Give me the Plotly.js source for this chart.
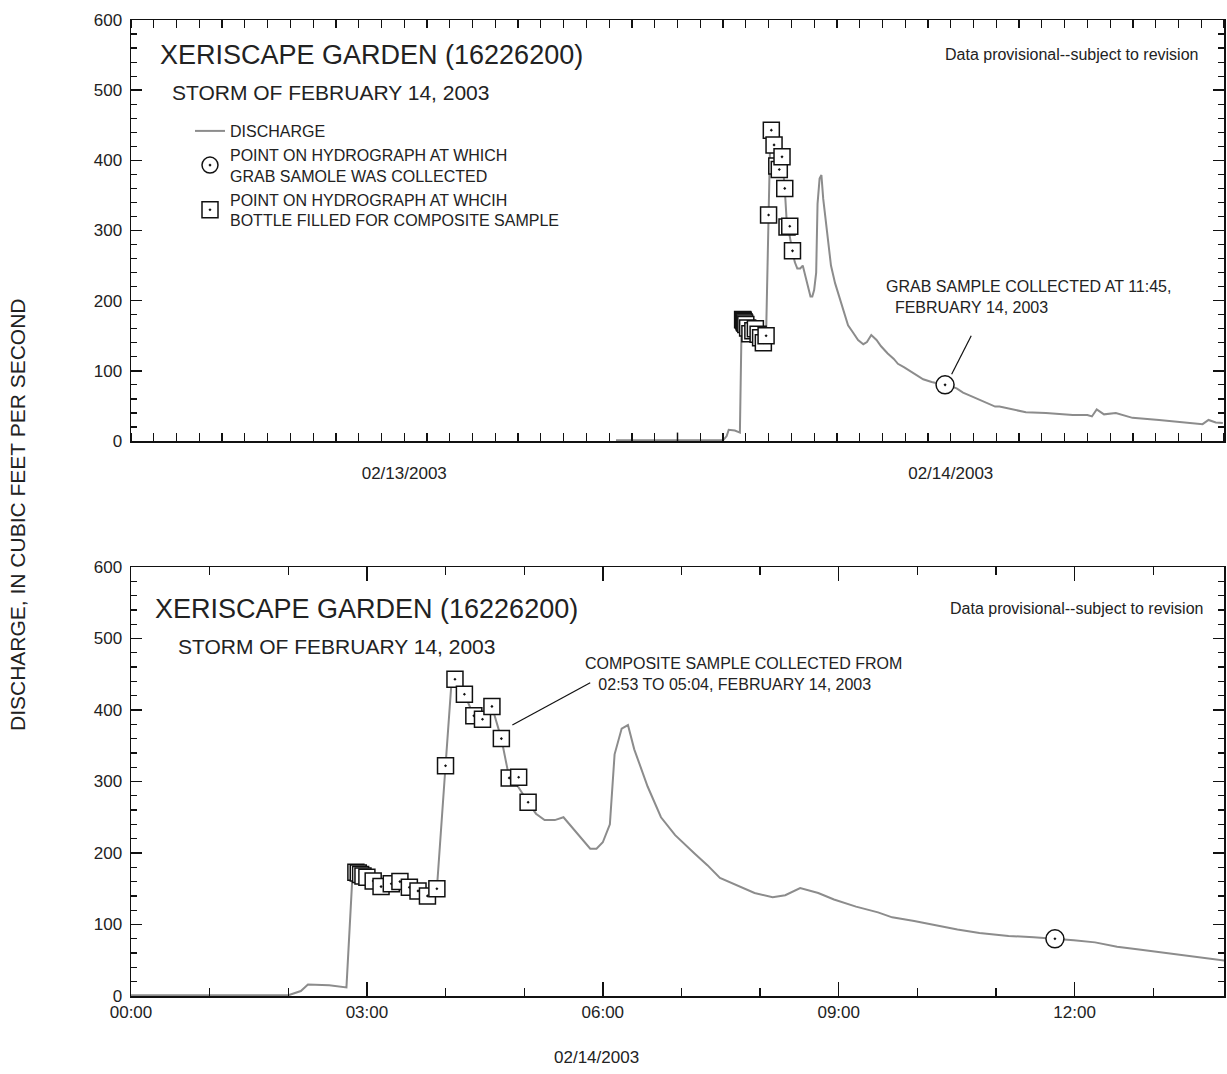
<!DOCTYPE html>
<html><head><meta charset="utf-8">
<script src="https://cdn.plot.ly/plotly-3.0.1.min.js"></script>
<style>body{margin:0;background:#fff}#c{width:1227px;height:1074px}</style>
</head><body><div id="c"></div>
<script>
// Hours after 00:00 on 02/14/2003
const hours = [-2.7,2.0,2.16,2.25,2.52,2.74,2.82,2.86,2.95,3.08,3.18,3.31,3.42,3.54,3.65,3.77,3.89,4.0,4.08,4.12,4.24,4.36,4.47,4.59,4.71,4.81,4.88,5.05,5.15,5.26,5.39,5.5,5.62,5.75,5.84,5.92,6.0,6.09,6.15,6.24,6.32,6.4,6.57,6.74,6.92,7.17,7.33,7.49,7.7,7.93,8.16,8.32,8.51,8.74,8.94,9.22,9.5,9.68,9.96,10.19,10.51,10.79,11.16,11.48,11.75,11.99,12.26,12.54,12.82,13.09,13.37,13.65,13.95,14.14,15.3,16.18,17.36,18.0,18.2,18.41,18.73,19.25,19.98,21.15,22.03,23.06,23.32,23.64,23.95];
const discharge = [1,1,7,16,15,12,176,173,168,161,153,157,160,152,147,140,150,322,445,443,422,392,387,405,360,305,300,271,255,246,246,250,235,218,206,206,215,240,338,374,379,345,293,250,225,199,183,165,155,144,138,141,151,144,135,125,117,110,105,100,93,88,84,82,80,78,75,69,65,61,57,53,49,49,41,40,37,37,35,45,38,40,33,30,27.5,24,30,26.5,25.5];
const compHours = [2.86,2.89,2.92,2.95,3.0,3.08,3.18,3.31,3.42,3.54,3.65,3.77,3.89,4.0,4.12,4.24,4.36,4.47,4.59,4.71,4.81,4.93,5.05];
const compQ = [173,172,170,168,166,161,153,157,160,152,147,140,150,322,443,422,392,387,405,360,305,306,271];
const grabHours = [11.75];
const grabQ = [80];
const topTickVals = [12,36];
const topTickText = ['02/13/2003','02/14/2003'];
const botTickVals = [0,3,6,9,12];
const botTickText = ['00:00','03:00','06:00','09:00','12:00'];

const shift = h => h.map(v => v + 24);
const F = 'Liberation Sans, Arial, sans-serif';
const lineStyle = {color:'#8c8c8c', width:2};
const sqMarker = {symbol:'square-dot', size:16, color:'white', line:{color:'#111', width:1.5}};
const ciMarker = {symbol:'circle-dot', size:18, color:'white', line:{color:'#111', width:1.5}};

const traces = [
 {x:shift(hours), y:discharge, xaxis:'x', yaxis:'y', mode:'lines', line:lineStyle, name:'DISCHARGE'},
 {x:shift(grabHours), y:grabQ, xaxis:'x', yaxis:'y', mode:'markers', marker:ciMarker, name:'POINT ON HYDROGRAPH AT WHICH<br>GRAB SAMOLE WAS COLLECTED'},
 {x:shift(compHours), y:compQ, xaxis:'x', yaxis:'y', mode:'markers', marker:sqMarker, name:'POINT ON HYDROGRAPH AT WHCIH<br>BOTTLE FILLED FOR COMPOSITE SAMPLE'},
 {x:hours, y:discharge, xaxis:'x2', yaxis:'y2', mode:'lines', line:lineStyle, showlegend:false},
 {x:grabHours, y:grabQ, xaxis:'x2', yaxis:'y2', mode:'markers', marker:ciMarker, showlegend:false},
 {x:compHours, y:compQ, xaxis:'x2', yaxis:'y2', mode:'markers', marker:sqMarker, showlegend:false}
];

const yax = dom => ({domain:dom, range:[0,600], tickvals:[0,100,200,300,400,500,600], ticks:'inside', ticklen:11, tickwidth:1.5,
  minor:{dtick:20, tick0:0, ticks:'inside', ticklen:6, tickwidth:1.2, tickcolor:'#111'},
  mirror:'ticks', showline:true, linecolor:'#111', linewidth:1.5, tickcolor:'#111', showgrid:false, zeroline:false,
  tickfont:{family:F, size:17, color:'#222'}, ticklabelstandoff:4, fixedrange:true});

const layout = {
 width:1227, height:1074, margin:{l:0,r:0,t:0,b:0}, paper_bgcolor:'white', plot_bgcolor:'white',
 font:{family:F, color:'#222'},
 xaxis:{domain:[131/1227,1224/1227], anchor:'y', range:[0,48], tickvals:topTickVals, ticktext:topTickText, ticks:'', ticklen:0,
   minor:{dtick:1, tick0:0, ticks:'inside', ticklen:8, tickwidth:1.2, tickcolor:'#111'},
   mirror:'ticks', showline:true, linecolor:'#111', linewidth:1.5, showgrid:false, zeroline:false,
   tickfont:{family:F, size:17, color:'#222'}, ticklabelstandoff:16},
 yaxis:Object.assign(yax([1-441/1074, 1-20/1074]), {anchor:'x'}),
 xaxis2:{domain:[131/1227,1224/1227], anchor:'y2', range:[0,13.9], tickvals:botTickVals, ticktext:botTickText, ticks:'inside', ticklen:14, tickwidth:1.5, tickcolor:'#111',
   minor:{dtick:1, tick0:0, ticks:'inside', ticklen:8, tickwidth:1.2, tickcolor:'#111'},
   mirror:'ticks', showline:true, linecolor:'#111', linewidth:1.5, showgrid:false, zeroline:false,
   tickfont:{family:F, size:17, color:'#222'}, ticklabelstandoff:0},
 yaxis2:Object.assign(yax([1-996/1074, 1-567/1074]), {anchor:'x2'}),
 showlegend:true,
 legend:{x:190/1227, y:1-114/1074, xanchor:'left', yanchor:'top', bgcolor:'rgba(0,0,0,0)', font:{family:F, size:16, color:'#222'}, tracegroupgap:0, itemwidth:30},
 shapes:[
  {type:'line', xref:'x', yref:'y', x0:24, x1:24, y0:-50, y1:12, line:{color:'#111', width:1.5}},
  {type:'line', xref:'x', yref:'y', x0:36.9, y0:150, x1:36.04, y1:95, line:{color:'#111', width:1.2}},
  {type:'line', xref:'x2', yref:'y2', x0:5.84, y0:438, x1:4.85, y1:379, line:{color:'#111', width:1.2}}
 ],
 annotations:[
  {xref:'paper', yref:'paper', x:158/1227, y:1-55/1074, xanchor:'left', yanchor:'middle', showarrow:false, text:'XERISCAPE GARDEN (16226200)', font:{family:F, size:27, color:'#222'}},
  {xref:'paper', yref:'paper', x:170/1227, y:1-92/1074, xanchor:'left', yanchor:'middle', showarrow:false, text:'STORM OF FEBRUARY 14, 2003', font:{family:F, size:21, color:'#222'}},
  {xref:'paper', yref:'paper', x:1200/1227, y:1-55/1074, xanchor:'right', yanchor:'middle', showarrow:false, text:'Data provisional--subject to revision', font:{family:F, size:16, color:'#222'}},
  {xref:'paper', yref:'paper', x:884/1227, y:1-297/1074, xanchor:'left', yanchor:'middle', showarrow:false, align:'left', text:'GRAB SAMPLE COLLECTED AT 11:45,<br>  FEBRUARY 14, 2003', font:{family:F, size:16, color:'#222'}},
  {xref:'paper', yref:'paper', x:153/1227, y:1-609/1074, xanchor:'left', yanchor:'middle', showarrow:false, text:'XERISCAPE GARDEN (16226200)', font:{family:F, size:27, color:'#222'}},
  {xref:'paper', yref:'paper', x:176/1227, y:1-646/1074, xanchor:'left', yanchor:'middle', showarrow:false, text:'STORM OF FEBRUARY 14, 2003', font:{family:F, size:21, color:'#222'}},
  {xref:'paper', yref:'paper', x:1205/1227, y:1-608/1074, xanchor:'right', yanchor:'middle', showarrow:false, text:'Data provisional--subject to revision', font:{family:F, size:16, color:'#222'}},
  {xref:'paper', yref:'paper', x:583/1227, y:1-674/1074, xanchor:'left', yanchor:'middle', showarrow:false, align:'left', text:'COMPOSITE SAMPLE COLLECTED FROM<br>   02:53 TO 05:04, FEBRUARY 14, 2003', font:{family:F, size:16, color:'#222'}},
  {xref:'paper', yref:'paper', x:596/1227, y:1-1057/1074, xanchor:'center', yanchor:'middle', showarrow:false, text:'02/14/2003', font:{family:F, size:17, color:'#222'}},
  {xref:'paper', yref:'paper', x:17/1227, y:1-515/1074, xanchor:'center', yanchor:'middle', textangle:-90, showarrow:false, text:'DISCHARGE, IN CUBIC FEET PER SECOND', font:{family:F, size:21, color:'#222'}}
 ]
};
Plotly.newPlot('c', traces, layout, {staticPlot:true});
</script></body></html>
